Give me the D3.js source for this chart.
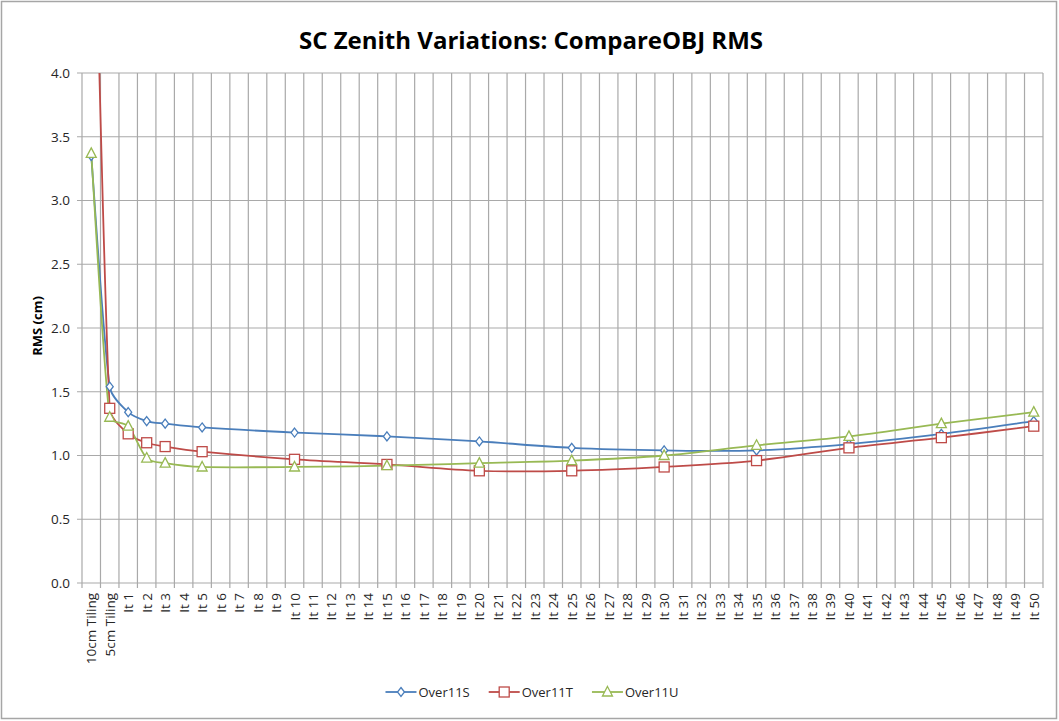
<!DOCTYPE html>
<html>
<head>
<meta charset="utf-8">
<script src="https://cdn.jsdelivr.net/npm/d3@7"></script>
<style>
  body { margin: 0; background: #fff; }
  text { font-family: "Open Sans", "DejaVu Sans", sans-serif; }
</style>
</head>
<body>
<div id="chart"></div>
<script>
var categories = ["10cm Tiling", "5cm Tiling"];
for (var i = 1; i <= 50; i++) categories.push("It " + i);

// only these categories carry a value; the others are empty
var sampled = ["10cm Tiling", "5cm Tiling", "It 1", "It 2", "It 3", "It 5", "It 10", "It 15",
  "It 20", "It 25", "It 30", "It 35", "It 40", "It 45", "It 50"];

var over11S = [3.35, 1.54, 1.34, 1.27, 1.25, 1.22, 1.18, 1.15, 1.11, 1.06, 1.04, 1.04, 1.09, 1.17, 1.27];
var over11T = [6.6, 1.37, 1.17, 1.10, 1.07, 1.03, 0.97, 0.93, 0.88, 0.88, 0.91, 0.96, 1.06, 1.14, 1.23];
var over11U = [3.37, 1.30, 1.23, 0.98, 0.94, 0.91, 0.91, 0.92, 0.94, 0.96, 1.00, 1.08, 1.15, 1.25, 1.34];

var yTicks = [0.0, 0.5, 1.0, 1.5, 2.0, 2.5, 3.0, 3.5, 4.0];

var series = [
  { name: "Over11S", values: over11S, color: "#4a7ebb", marker: "diamond" },
  { name: "Over11T", values: over11T, color: "#be4b48", marker: "square" },
  { name: "Over11U", values: over11U, color: "#98b954", marker: "triangle" }
];

var W = 1059, H = 721;
var plot = { left: 82, right: 1043, top: 73, bottom: 583 };

var svg = d3.select("#chart").append("svg")
  .attr("width", W).attr("height", H);

// chart area border
svg.append("rect")
  .attr("x", 1.5).attr("y", 1.5)
  .attr("width", W - 4).attr("height", H - 4)
  .attr("fill", "#fff")
  .attr("stroke", "#a6a6a6")
  .attr("stroke-width", 1.5);

svg.append("text")
  .attr("x", 531).attr("y", 49)
  .attr("text-anchor", "middle")
  .attr("font-size", "24px")
  .attr("font-weight", "bold")
  .attr("fill", "#000")
  .text("SC Zenith Variations: CompareOBJ RMS");

var x = d3.scaleBand().domain(categories)
  .range([plot.left, plot.right]).paddingInner(0).paddingOuter(0);
var y = d3.scaleLinear().domain([0, 4]).range([plot.bottom, plot.top]);

var grid = svg.append("g").attr("class", "grid");

// vertical grid lines at category boundaries
var bounds = categories.map(function(c) { return x(c); }).concat([plot.right]);
grid.selectAll("line.v").data(bounds).enter().append("line")
  .attr("class", "v")
  .attr("x1", function(d) { return d; }).attr("x2", function(d) { return d; })
  .attr("y1", plot.top).attr("y2", plot.bottom + 5)
  .attr("stroke", "#a9a9a9").attr("stroke-width", 1.2);

// horizontal grid lines
grid.selectAll("line.h").data(yTicks).enter().append("line")
  .attr("class", "h")
  .attr("x1", plot.left - 5).attr("x2", plot.right)
  .attr("y1", function(d) { return y(d); }).attr("y2", function(d) { return y(d); })
  .attr("stroke", "#a9a9a9").attr("stroke-width", 1.2);

// y axis labels
var yAxis = d3.axisLeft(y).tickValues(yTicks).tickFormat(d3.format(".1f")).tickSize(0).tickPadding(12);
var yg = svg.append("g").attr("transform", "translate(" + plot.left + ",0)").call(yAxis);
yg.select(".domain").remove();
yg.selectAll("text").attr("font-size", "13.5px").attr("fill", "#262626")
  .attr("font-family", "'Open Sans', sans-serif");

// x axis labels (rotated)
var xAxis = d3.axisBottom(x).tickSize(0).tickPadding(0);
var xg = svg.append("g").attr("transform", "translate(0," + plot.bottom + ")").call(xAxis);
xg.select(".domain").remove();
xg.selectAll("text")
  .attr("font-size", "13.5px").attr("fill", "#262626")
  .attr("font-family", "'Open Sans', sans-serif")
  .attr("text-anchor", "end")
  .attr("dy", null)
  .attr("transform", "translate(5,10) rotate(-90)")
  .attr("y", 0);

svg.append("text")
  .attr("transform", "translate(" + 42 + "," + ((plot.top + plot.bottom) / 2 - 2) + ") rotate(-90)")
  .attr("text-anchor", "middle")
  .attr("font-size", "13px")
  .attr("font-weight", "bold")
  .attr("fill", "#000")
  .text("RMS (cm)");

svg.append("clipPath").attr("id", "plotclip")
  .append("rect")
  .attr("x", plot.left).attr("y", plot.top)
  .attr("width", plot.right - plot.left).attr("height", plot.bottom - plot.top);

var cx = function(cat) { return x(cat) + x.bandwidth() / 2; };

// Excel-like smoothing: Catmull-Rom handles, clamped to a third of each segment
function smoothLine(pts) {
  var p = pts.map(function(d) { return [cx(d.cat), y(d.v)]; });
  var path = d3.path();
  path.moveTo(p[0][0], p[0][1]);
  function handle(a, b, limit) {
    var hx = (b[0] - a[0]) / 6, hy = (b[1] - a[1]) / 6;
    var len = Math.sqrt(hx * hx + hy * hy);
    if (len > limit && len > 0) { hx *= limit / len; hy *= limit / len; }
    return [hx, hy];
  }
  for (var i = 0; i < p.length - 1; i++) {
    var p0 = p[i - 1] || p[i], p1 = p[i], p2 = p[i + 1], p3 = p[i + 2] || p[i + 1];
    var seg = Math.sqrt(Math.pow(p2[0] - p1[0], 2) + Math.pow(p2[1] - p1[1], 2));
    var t1 = handle(p0, p2, seg / 3), t2 = handle(p1, p3, seg / 3);
    path.bezierCurveTo(p1[0] + t1[0], p1[1] + t1[1], p2[0] - t2[0], p2[1] - t2[1], p2[0], p2[1]);
  }
  return path.toString();
}

var symbols = {
  diamond: function(g, color) {
    g.append("path").attr("d", "M0,-4.5L3.5,0L0,4.5L-3.5,0Z")
      .attr("fill", "#fff").attr("stroke", color).attr("stroke-width", 1.3);
  },
  square: function(g, color) {
    g.append("rect").attr("x", -5).attr("y", -5).attr("width", 10).attr("height", 10)
      .attr("fill", "#fff").attr("stroke", color).attr("stroke-width", 1.3);
  },
  triangle: function(g, color) {
    g.append("path").attr("d", "M0,-5.5L5,4L-5,4Z")
      .attr("fill", "#fff").attr("stroke", color).attr("stroke-width", 1.3);
  }
};

var dataLayer = svg.append("g").attr("clip-path", "url(#plotclip)");

series.forEach(function(s) {
  var pts = s.values.map(function(v, i) { return { cat: sampled[i], v: v }; });
  dataLayer.append("path")
    .datum(pts)
    .attr("fill", "none")
    .attr("stroke", s.color)
    .attr("stroke-width", 1.8)
    .attr("d", smoothLine);
});

series.forEach(function(s) {
  var pts = s.values.map(function(v, i) { return { cat: sampled[i], v: v }; });
  dataLayer.selectAll(null).data(pts).enter().append("g")
    .attr("transform", function(d) { return "translate(" + cx(d.cat) + "," + y(d.v) + ")"; })
    .each(function() { symbols[s.marker](d3.select(this), s.color); });
});

// legend
var legend = svg.append("g");
var lx = 0;
series.forEach(function(s, i) {
  var g = legend.append("g").attr("transform", "translate(" + lx + ",0)");
  g.append("line").attr("x1", 0).attr("x2", 31).attr("y1", 0).attr("y2", 0)
    .attr("stroke", s.color).attr("stroke-width", 1.8);
  var m = g.append("g").attr("transform", "translate(15.5,0)");
  symbols[s.marker](m, s.color);
  var t = g.append("text").attr("x", 33).attr("y", 5)
    .attr("font-size", "13px").attr("fill", "#262626").text(s.name);
  lx += 33 + t.node().getComputedTextLength() + 19;
});
var lw = lx - 19;
legend.attr("transform", "translate(" + (532 - lw / 2) + ",692)");
</script>
</body>
</html>
